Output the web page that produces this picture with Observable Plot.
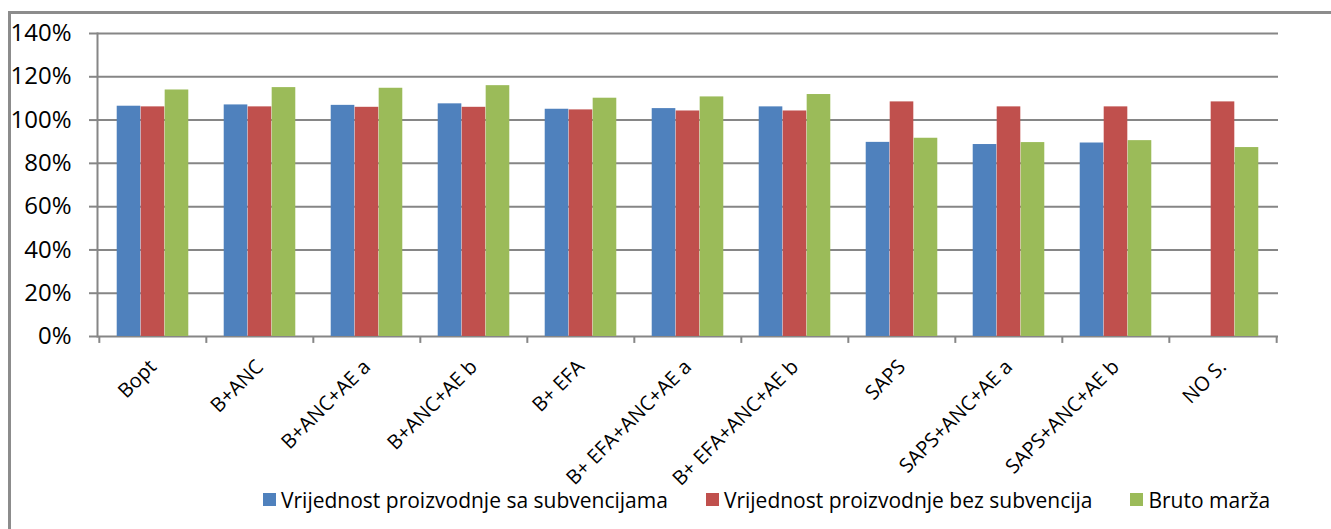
<!DOCTYPE html>
<html><head><meta charset="utf-8">
<script src="https://cdn.jsdelivr.net/npm/d3@7"></script>
<script src="https://cdn.jsdelivr.net/npm/@observablehq/plot@0.6"></script>
<style>
body{margin:0;background:#fff;font-family:"Open Sans", sans-serif;}
#wrap{position:relative;width:1331px;height:529px;overflow:hidden;background:#fff;}
#frame{position:absolute;left:8px;top:11px;right:-10px;bottom:-10px;border-left:3px solid #8c8c8c;border-top:3px solid #8c8c8c;}
#chart{position:absolute;left:0;top:0;}
#legend{position:absolute;left:263px;top:483px;}
#legend span{margin-right:38px !important;}
#legend svg{margin-right:5px !important;}
</style></head><body>
<div id="wrap"><div id="frame"></div><div id="chart"></div><div id="legend"></div></div>
<script>
const categories = ["Bopt","B+ANC","B+ANC+AE a","B+ANC+AE b","B+ EFA","B+ EFA+ANC+AE a","B+ EFA+ANC+AE b","SAPS","SAPS+ANC+AE a","SAPS+ANC+AE b","NO S."];
const seriesNames = ["Vrijednost proizvodnje sa subvencijama","Vrijednost proizvodnje bez subvencija","Bruto marža"];
const saSubvencijama = [1.064,1.070,1.068,1.075,1.050,1.053,1.061,0.897,0.887,0.894,null];
const bezSubvencija  = [1.061,1.061,1.059,1.059,1.047,1.042,1.042,1.084,1.061,1.061,1.084];
const brutoMarza     = [1.139,1.150,1.147,1.159,1.101,1.107,1.118,0.916,0.896,0.905,0.873];
const yTicks = [0,0.2,0.4,0.6,0.8,1.0,1.2,1.4];
const colors = ["#4F81BD","#C0504D","#9BBB59"];

const seriesValues = [saSubvencijama, bezSubvencija, brutoMarza];
const rows = [];
seriesNames.forEach((s, i) => categories.forEach((c, j) => {
  const v = seriesValues[i][j];
  if (v != null) rows.push({category: c, series: s, value: v});
}));

const W = 1331, H = 470, mL = 97, mR = 53, mT = 33, mB = 134;
const bw = (W - mL - mR) / categories.length;
const groupFrac = 0.67, barW = bw * groupFrac / 3, outer = bw * (1 - groupFrac) / 2;
const gray = "#868686";
const font = "'Open Sans', sans-serif";

const bars = seriesNames.map((s, i) => Plot.barY(rows.filter(d => d.series === s), {
  x: "category", y: "value", fill: "series",
  insetLeft: outer + i * barW, insetRight: bw - outer - (i + 1) * barW
}));

const plot = Plot.plot({
  width: W, height: H,
  marginLeft: mL, marginRight: mR, marginTop: mT, marginBottom: mB,
  style: {fontFamily: font, fontSize: "20px", background: "transparent", overflow: "visible"},
  x: {domain: categories, padding: 0, label: null},
  y: {domain: [0, 1.4], label: null},
  color: {domain: seriesNames, range: colors},
  marks: [
    Plot.ruleY(yTicks, {stroke: gray, strokeWidth: 2}),
    ...bars,
    Plot.frame({anchor: "left", stroke: gray, strokeWidth: 2}),
    Plot.ruleX(categories, {x: d => d, dx: -bw / 2, y1: 0, y2: -0.032, stroke: gray, strokeWidth: 2}),
    Plot.ruleX(categories.slice(-1), {x: d => d, dx: bw / 2, y1: 0, y2: -0.032, stroke: gray, strokeWidth: 2}),
    Plot.axisY({ticks: yTicks, tickFormat: d3.format(".0%"), tickSize: 8, tickPadding: 18, fontSize: "24px", stroke: gray, strokeWidth: 2, fill: "#000", label: null}),
    Plot.axisX({tickSize: 0, tickRotate: -45, tickPadding: 27, fontSize: "20px", fill: "#000", label: null})
  ]
});
document.getElementById("chart").appendChild(plot);
const leg = plot.legend("color", {swatchWidth: 13, swatchHeight: 13, style: {fontSize: "21px", fontFamily: font, color: "#000"}});
document.getElementById("legend").appendChild(leg);
</script>
</body></html>
